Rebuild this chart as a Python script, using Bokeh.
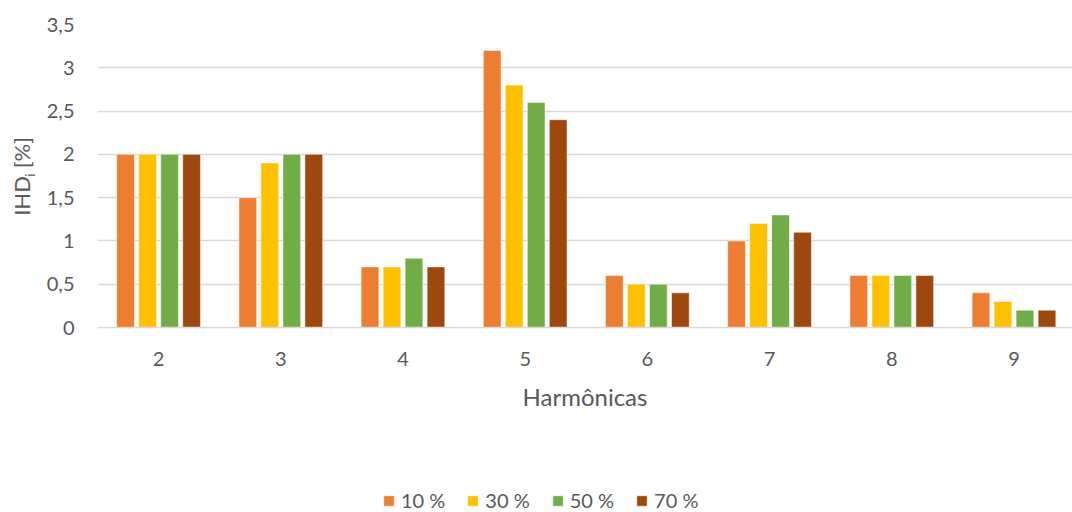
from bokeh.plotting import figure
from bokeh.layouts import column, row
from bokeh.models import ColumnDataSource, Range1d, Legend, LegendItem, FixedTicker
from bokeh.core.properties import value
from bokeh.embed import file_html
from bokeh.resources import INLINE

# Harmonic orders and individual harmonic distortion (%) per load level
harmonics = ["2", "3", "4", "5", "6", "7", "8", "9"]
series = ["10 %", "30 %", "50 %", "70 %"]
ihd_10 = [2.0, 1.5, 0.7, 3.2, 0.6, 1.0, 0.6, 0.4]
ihd_30 = [2.0, 1.9, 0.7, 2.8, 0.5, 1.2, 0.6, 0.3]
ihd_50 = [2.0, 2.0, 0.8, 2.6, 0.5, 1.3, 0.6, 0.2]
ihd_70 = [2.0, 2.0, 0.7, 2.4, 0.4, 1.1, 0.6, 0.2]
y_ticks = [0, 0.5, 1, 1.5, 2, 2.5, 3, 3.5]
y_tick_labels = ["0", "0,5", "1", "1,5", "2", "2,5", "3", "3,5"]

colors = ["#ED7D31", "#FFC000", "#70AD47", "#9E480E"]
offsets = [-0.27, -0.09, 0.09, 0.27]
bar_width = 0.145

FONT = "Lato"
TEXT = "#595959"
GRID = "#D9D9D9"

TITLE_W = 40
MAIN_H = 470
LEGEND_H = 512 - MAIN_H
y_range = Range1d(0, 3.5)

# ---- main chart -------------------------------------------------------
p = figure(
    width=1072 - TITLE_W, height=MAIN_H,
    x_range=Range1d(-0.5, 7.479), y_range=y_range,
    min_border_left=97 - TITLE_W, min_border_right=0, min_border_top=24,
    min_border_bottom=MAIN_H - 327,
    output_backend="svg", toolbar_location=None,
)
p.outline_line_color = None

idx = list(range(len(harmonics)))
renderers = []
for vals, color, off in zip([ihd_10, ihd_30, ihd_50, ihd_70], colors, offsets):
    src = ColumnDataSource(dict(x=[i + off for i in idx], top=vals))
    r = p.vbar(x="x", top="top", bottom=0, width=bar_width, source=src,
               fill_color=color, line_color="white", line_alpha=0.5, line_width=1)
    renderers.append(r)

# x axis: harmonic order
p.xaxis.ticker = FixedTicker(ticks=idx)
p.xaxis.major_label_overrides = {i: h for i, h in zip(idx, harmonics)}
p.xaxis.major_tick_line_color = None
p.xaxis.major_tick_out = 0
p.xaxis.major_tick_in = 0
p.xaxis.minor_tick_line_color = None
p.xaxis.axis_line_color = GRID
p.xaxis.axis_line_width = 1.5
p.xaxis.major_label_standoff = 24
p.xaxis.major_label_text_font = FONT
p.xaxis.major_label_text_font_size = "20px"
p.xaxis.major_label_text_color = TEXT
p.xaxis.axis_label = "Harmônicas"
p.xaxis.axis_label_text_font = FONT
p.xaxis.axis_label_text_font_size = "24px"
p.xaxis.axis_label_text_font_style = "normal"
p.xaxis.axis_label_text_color = TEXT
p.xaxis.axis_label_standoff = 13

# y axis: comma decimal labels, no axis line
p.yaxis.ticker = FixedTicker(ticks=y_ticks)
p.yaxis.major_label_overrides = {t: l for t, l in zip(y_ticks, y_tick_labels)}
p.yaxis.axis_line_color = None
p.yaxis.major_tick_line_color = None
p.yaxis.major_tick_out = 0
p.yaxis.major_tick_in = 0
p.yaxis.minor_tick_line_color = None
p.yaxis.major_label_standoff = 23
p.yaxis.major_label_text_font = FONT
p.yaxis.major_label_text_font_size = "20px"
p.yaxis.major_label_text_color = TEXT

p.xgrid.grid_line_color = None
p.ygrid.ticker = FixedTicker(ticks=y_ticks)
p.ygrid.grid_line_color = GRID
p.ygrid.grid_line_width = 1.5

# ---- y axis title strip: "IHD" with subscript "i", then "[%]" ----------
t = figure(
    width=TITLE_W, height=MAIN_H,
    x_range=Range1d(0, TITLE_W), y_range=y_range,
    min_border_left=0, min_border_right=0, min_border_top=24,
    min_border_bottom=MAIN_H - 327,
    x_axis_location=None, y_axis_location=None,
    output_backend="svg", toolbar_location=None,
)
t.outline_line_color = None
t.grid.visible = False
title_parts = ["IHD", "i", "[%]"]
title_x = [21, 29, 21]
title_y = [1.29, 1.74, 1.84]
title_size = ["22px", "13px", "22px"]
t.text(x=title_x, y=title_y, text=title_parts, angle=1.5708,
       text_align="left", text_baseline="middle",
       text_font=value(FONT), text_font_size=title_size, text_color=TEXT)

# ---- legend strip -----------------------------------------------------
lg = figure(
    width=1072, height=LEGEND_H,
    x_range=Range1d(0, 1072), y_range=Range1d(0, LEGEND_H),
    min_border=0, x_axis_location=None, y_axis_location=None,
    output_backend="svg", toolbar_location=None,
)
lg.outline_line_color = None
lg.grid.visible = False
# swatch renderers sit outside the strip's visible range; only their legend glyphs show
swatches = [lg.vbar(x=[-100], top=[-100], bottom=-200, width=1, fill_color=c,
                    line_color="white", line_alpha=0.5, line_width=1) for c in colors]
legend = Legend(
    items=[LegendItem(label=s, renderers=[r]) for s, r in zip(series, swatches)],
    orientation="horizontal", location=(382, 0),
    border_line_alpha=0, background_fill_alpha=0,
    glyph_width=13, glyph_height=13, label_standoff=6, spacing=21,
    padding=0, margin=0,
    label_text_font=FONT, label_text_font_size="20px", label_text_color=TEXT,
)
lg.add_layout(legend)

layout = column(row(t, p, spacing=0), lg, spacing=0)
open("out.html", "w").write(file_html(layout, INLINE))
